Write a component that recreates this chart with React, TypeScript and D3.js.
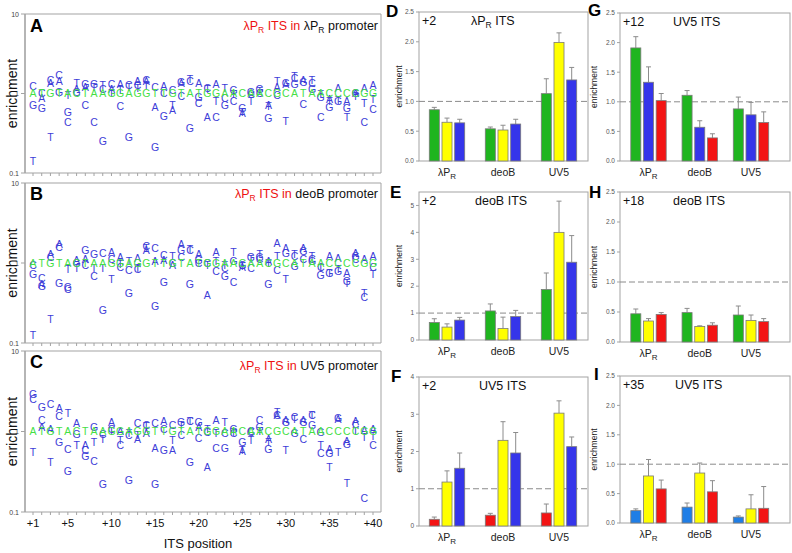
import React from 'react';
import * as d3 from 'd3';

const W = 792;
const H = 553;
const FONT = "'Liberation Sans', Arial, sans-serif";

// ---------- Left panels (A, B, C): ITS position scans ----------
const itsSeq = 'ATGTACTAAGGAGGTTGTATGGAACAACGCATAACCCCGG';
const positions = d3.range(1, 41);
const posTicks = [1, 5, 10, 15, 20, 25, 30, 35, 40];
const logTicks = [0.1, 1, 10];

const lettersA = ['CGT','AGC','CAT','CAG','TGC','TAG','GAC','GTC','TCG','CAT','ATC','CTG','ACT','CAT','CAG','ACG','CTA','GAC','CTG','AGC','CTA','ATC','TCG','GTC','GTA','GCT','GTC','ATG','TAC','GAT','TCG','AGC','TCG','TGC','ATG','ATG','AGT','AGT','ATC','ATC'];
const valuesA = [[1.24,0.71,0.14],[0.88,0.65,1.0],[1.47,1.33,0.28],[1.68,1.41,1.04],[0.95,0.58,0.43],[1.35,1.12,1.05],[1.3,1.2,0.71],[1.3,1.2,0.43],[1.26,1.12,0.25],[1.32,1.14,1.0],[1.32,1.1,0.7],[1.28,1.2,0.28],[1.41,1.28,1.17],[1.47,1.43,1.26],[1.21,0.67,0.21],[1.24,1.02,0.52],[1.1,0.71,0.61],[1.4,1.36,0.93],[1.43,1.5,0.37],[1.33,0.91,0.76],[1.18,1.12,0.51],[1.3,0.8,0.5],[1.16,0.87,0.71],[1.1,0.99,0.79],[0.66,0.59,0.57],[1.04,0.99,0.79],[1.14,1.07,1.0],[0.72,0.7,0.49],[1.41,1.21,0.94],[1.33,1.31,0.45],[1.65,1.54,1.3],[1.46,1.4,0.74],[1.47,1.33,1.14],[0.97,0.91,0.51],[0.86,0.8,0.67],[1.18,0.82,0.8],[0.8,0.66,0.5],[1.0,1.0,0.92],[1.18,0.76,0.43],[1.26,0.84,0.63]];

const lettersB = ['CGT','CAG','ACT','ACG','TGC','ATG','GAC','GCT','CTG','ACT','ACT','TCG','ACT','CAT','CAG','CAG','TAC','AGC','CTG','AGC','TCA','ATC','TCG','TGC','GAT','GCT','TGC','ATG','ATC','AGT','CTG','AGC','TCG','TCG','ATG','ATG','AGT','AGC','TCA','ACT'];
const valuesB = [[0.93,0.72,0.125],[0.64,0.55,0.52],[1.28,1.19,0.2],[1.74,1.57,0.56],[0.83,0.5,0.47],[1.07,0.87,1.0],[1.44,1.1,0.94],[1.27,0.68,0.87],[1.33,0.87,0.26],[1.36,1.12,0.63],[1.18,0.89,0.98],[1.05,0.81,0.42],[1.15,0.83,0.85],[1.61,1.44,1.55],[1.54,1.05,0.29],[1.25,1.07,0.57],[1.23,0.95,1.0],[1.72,1.46,1.18],[1.46,1.49,0.55],[1.27,1.07,1.0],[0.95,1.0,0.4],[1.36,1.05,0.79],[0.93,0.87,0.68],[1.37,1.05,0.58],[0.95,0.88,0.92],[1.19,0.86,1.12],[1.29,1.19,1.12],[1.06,1.0,0.54],[1.77,1.21,0.81],[1.54,1.31,0.63],[1.23,1.29,0.91],[1.54,1.4,1.12],[1.23,1.1,1.05],[0.87,0.89,0.7],[1.23,0.74,0.75],[1.15,0.83,0.79],[0.74,0.59,0.56],[1.31,1.2,1.13],[0.42,0.37,1.13],[1.23,0.88,0.73]];

const lettersC = ['GCT','GCA','CAT','ACG','TCG','AGT','ACG','GTC','CTG','ACT','ATC','CTG','CTA','CTA','CAG','ACG','CTA','GTC','CTG','GAC','TCA','ACT','TCG','GCT','GAT','GTC','CGT','ATG','TCA','AGT','CTG','AGC','CTG','GTC','AGT','GAT','AGT','ACT','ATC','ATC'];
const valuesC = [[2.87,2.51,0.55],[1.98,1.37,1.13],[2.17,1.06,0.41],[1.96,1.54,0.74],[1.71,0.61,0.32],[1.25,0.92,0.67],[0.67,0.59,0.5],[1.13,0.74,0.43],[0.93,0.8,0.22],[1.31,1.08,1.0],[1.01,0.77,0.67],[0.89,0.95,0.25],[1.25,0.89,0.81],[1.19,1.15,0.94],[1.27,0.62,0.22],[1.35,1.08,0.58],[1.19,0.77,0.58],[1.31,1.19,0.89],[1.35,1.35,0.42],[1.31,1.13,0.83],[1.08,0.98,0.36],[1.37,0.62,0.96],[1.31,0.94,0.62],[1.08,0.95,0.98],[0.74,0.57,0.58],[0.98,0.79,1.0],[1.37,1.13,1.0],[0.81,0.74,0.61],[1.74,1.61,1.6],[1.37,1.31,0.59],[1.51,1.44,0.94],[1.37,1.31,0.81],[1.58,1.6,1.19],[0.98,0.67,0.54],[0.61,0.53,0.36],[1.48,1.44,0.55],[0.75,0.7,0.23],[1.35,1.22,1.0],[1.03,0.85,0.15],[1.08,0.87,0.67]];

// ---------- Right panels (D-I): bar charts ----------
const categories = ['lPR', 'deoB', 'UV5'];

const valuesD = [[0.86, 0.65, 0.64], [0.54, 0.52, 0.62], [1.13, 1.99, 1.36]];
const errorsD = [[0.04, 0.07, 0.06], [0.03, 0.08, 0.08], [0.25, 0.16, 0.21]];
const valuesE = [[0.65, 0.48, 0.74], [1.08, 0.43, 0.87], [1.88, 4.0, 2.89]];
const errorsE = [[0.14, 0.12, 0.1], [0.26, 0.42, 0.23], [0.61, 1.16, 0.99]];
const valuesF = [[0.18, 1.18, 1.55], [0.29, 2.3, 1.96], [0.35, 3.03, 2.13]];
const errorsF = [[0.06, 0.3, 0.41], [0.05, 0.5, 0.55], [0.24, 0.33, 0.26]];
const valuesG = [[1.91, 1.33, 1.02], [1.11, 0.57, 0.39], [0.88, 0.78, 0.65]];
const errorsG = [[0.19, 0.26, 0.12], [0.08, 0.11, 0.07], [0.2, 0.21, 0.18]];
const valuesH = [[0.47, 0.35, 0.46], [0.49, 0.26, 0.28], [0.45, 0.36, 0.34]];
const errorsH = [[0.08, 0.04, 0.03], [0.07, 0.01, 0.04], [0.15, 0.09, 0.05]];
const valuesI = [[0.21, 0.8, 0.58], [0.27, 0.85, 0.53], [0.1, 0.24, 0.25]];
const errorsI = [[0.03, 0.28, 0.15], [0.07, 0.17, 0.19], [0.02, 0.24, 0.37]];

const GREEN = '#1fb51f';
const YELLOW = '#ffff00';
const BLUE = '#3535ea';
const RED = '#f31414';
const AZURE = '#1f7ee6';

const AXIS = '#a3a3a3';

function LogoPanel(props: {
  top: number; bottom: number; letters: string[]; values: number[][];
  label: string; promoter: string; labelY: number; titleY: number; showX: boolean;
}) {
  const { top, bottom, letters, values, label, promoter, labelY, titleY, showX } = props;
  const x0 = 25, x1 = 381;
  const x = d3.scaleLinear().domain([1, 40]).range([33, 373]);
  const y = d3.scaleLog().domain([0.1, 10]).range([bottom, top]);
  const promoterIsL = promoter === 'lPR';
  return (
    <g>
      <line x1={x0} x2={x1} y1={top} y2={top} stroke={AXIS} strokeWidth={1} />
      <line x1={x1} x2={x1} y1={top} y2={bottom} stroke={AXIS} strokeWidth={1} />
      <line x1={x0} x2={x1} y1={bottom} y2={bottom} stroke={AXIS} strokeWidth={1.2} />
      <line x1={x0} x2={x0} y1={top} y2={bottom} stroke={AXIS} strokeWidth={1.6} />
      {logTicks.map((t) => (
        <g key={t}>
          <line x1={x0 - 4} x2={x0} y1={y(t)} y2={y(t)} stroke={AXIS} />
          <text x={x0 - 6} y={y(t) + 2.5} fontSize={7} textAnchor="end" fill="#444" fontFamily={FONT}>{t}</text>
        </g>
      ))}
      {positions.map((p) => (
        <line key={p} x1={x(p)} x2={x(p)} y1={bottom} y2={bottom + 3} stroke={AXIS} />
      ))}
      {showX && posTicks.map((p) => (
        <text key={p} x={x(p)} y={bottom + 15} fontSize={11} textAnchor="middle" fill="#111" fontFamily={FONT}>+{p}</text>
      ))}
      <text transform={`translate(17,${(top + bottom) / 2}) rotate(-90)`} fontSize={14} textAnchor="middle" fill="#111" fontFamily={FONT}>enrichment</text>
      <text x={30} y={labelY} fontSize={18} fontWeight="bold" fill="#000" fontFamily={FONT}>{label}</text>
      <text x={378} y={titleY} fontSize={12.5} textAnchor="end" fontFamily={FONT}>
        <tspan fill="#ee1111">λP</tspan>
        <tspan fill="#ee1111" fontSize={8.5} dy={3}>R</tspan>
        <tspan fill="#ee1111" dy={-3}> ITS in </tspan>
        {promoterIsL ? (
          <>
            <tspan fill="#111">λP</tspan>
            <tspan fill="#111" fontSize={8.5} dy={3}>R</tspan>
            <tspan fill="#111" dy={-3}> promoter</tspan>
          </>
        ) : (
          <tspan fill="#111">{promoter} promoter</tspan>
        )}
      </text>
      {positions.map((p, i) => (
        <g key={p}>
          {letters[i].split('').map((ch, j) => (
            <text key={j} x={x(p)} y={y(values[i][j]) + 3.8} fontSize={10.5} textAnchor="middle" fill="#3d3dd8" fontFamily={FONT}>{ch}</text>
          ))}
          <text x={x(p)} y={y(1) + 3.8} fontSize={10.5} textAnchor="middle" fill="#44e044" fontFamily={FONT}>{itsSeq[i]}</text>
        </g>
      ))}
    </g>
  );
}

function BarPanel(props: {
  x0: number; x1: number; top: number; bottom: number; max: number; ticks: number[]; fmt: (n: number) => string;
  values: number[][]; errors: number[][]; colors: string[]; label: string; labelX: number; labelY: number;
  pos: string; its: string; itsX: number; catA: number; catB: number; ylabX: number;
}) {
  const { x0, x1, top, bottom, max, ticks, fmt, values, errors, colors, label, labelX, labelY, pos, its, itsX, catA, catB, ylabX } = props;
  const y = d3.scaleLinear().domain([0, max]).range([bottom, top]);
  const xc = d3.scalePoint().domain(categories).range([x0 + catA, x0 + catB]);
  const xb = d3.scaleBand<number>().domain([0, 1, 2]).range([-17.7, 17.7]).paddingInner(0.21);
  const isL = its === 'lPR';
  return (
    <g>
      <rect x={x0} y={top} width={x1 - x0} height={bottom - top} fill="none" stroke={AXIS} strokeWidth={1} />
      {ticks.map((t) => (
        <g key={t}>
          <line x1={x0 - 3} x2={x0} y1={y(t)} y2={y(t)} stroke={AXIS} />
          <text x={x0 - 5} y={y(t) + 2.3} fontSize={6.5} textAnchor="end" fill="#555" fontFamily={FONT}>{fmt(t)}</text>
        </g>
      ))}
      <text transform={`translate(${ylabX},${(top + bottom) / 2}) rotate(-90)`} fontSize={8.5} textAnchor="middle" fill="#222" fontFamily={FONT}>enrichment</text>
      <line x1={x0} x2={x1} y1={y(1)} y2={y(1)} stroke="#8a8a8a" strokeWidth={1} strokeDasharray="6,3" />
      {categories.map((c, gi) => (
        <g key={c}>
          {values[gi].map((v, bi) => {
            const bx = (xc(c) as number) + (xb(bi) as number);
            const cx = bx + xb.bandwidth() / 2;
            const eTop = y(v + errors[gi][bi]);
            return (
              <g key={bi}>
                <line x1={cx} x2={cx} y1={y(v)} y2={eTop} stroke="#8c8c8c" strokeWidth={1} />
                <line x1={cx - 2.5} x2={cx + 2.5} y1={eTop} y2={eTop} stroke="#8c8c8c" strokeWidth={1} />
                <rect x={bx} y={y(v)} width={xb.bandwidth()} height={bottom - y(v)} fill={colors[bi]} stroke="#7a7a7a" strokeWidth={0.8} />
              </g>
            );
          })}
          {c === 'lPR' ? (
            <text x={xc(c) as number} y={bottom + 15} fontSize={10.5} textAnchor="middle" fill="#222" fontFamily={FONT}>
              <tspan>λP</tspan><tspan fontSize={8} dy={3}>R</tspan>
            </text>
          ) : (
            <text x={xc(c) as number} y={bottom + 15} fontSize={10.5} textAnchor="middle" fill="#222" fontFamily={FONT}>{c}</text>
          )}
        </g>
      ))}
      <text x={labelX} y={labelY} fontSize={17} fontWeight="bold" fill="#000" fontFamily={FONT}>{label}</text>
      <text x={x0 + 3} y={top + 13} fontSize={12.5} fill="#111" fontFamily={FONT}>{pos}</text>
      <text x={itsX} y={top + 13} fontSize={12.5} fill="#111" fontFamily={FONT}>
        {isL ? (
          <>
            <tspan>λP</tspan><tspan fontSize={8.5} dy={3}>R</tspan><tspan dy={-3}> ITS</tspan>
          </>
        ) : (
          <tspan>{its} ITS</tspan>
        )}
      </text>
    </g>
  );
}

const f1 = (n: number) => n.toFixed(1);
const f0 = (n: number) => String(n);

export default function App() {
  return (
    <svg width={W} height={H} style={{ position: 'absolute', left: 0, top: 0, background: '#fff' }} fontFamily={FONT}>
      <rect x={0} y={0} width={W} height={H} fill="#fff" />
      <LogoPanel top={14} bottom={173} letters={lettersA} values={valuesA} label="A" promoter="lPR" labelY={32} titleY={30} showX={false} />
      <LogoPanel top={183} bottom={343} letters={lettersB} values={valuesB} label="B" promoter="deoB" labelY={200} titleY={198} showX={false} />
      <LogoPanel top={351} bottom={512} letters={lettersC} values={valuesC} label="C" promoter="UV5" labelY={368} titleY={370} showX={true} />
      <text x={198} y={548} fontSize={13} textAnchor="middle" fill="#111" fontFamily={FONT}>ITS position</text>

      <BarPanel x0={419} x1={588} top={12} bottom={161} max={2.5} ticks={[0, 0.5, 1, 1.5, 2, 2.5]} fmt={f1}
        values={valuesD} errors={errorsD} colors={[GREEN, YELLOW, BLUE]} label="D" labelX={386} labelY={17}
        pos="+2" its="lPR" itsX={471} catA={28} catB={140} ylabX={402} />
      <BarPanel x0={419} x1={588} top={192} bottom={340} max={5.5} ticks={[0, 1, 2, 3, 4, 5]} fmt={f0}
        values={valuesE} errors={errorsE} colors={[GREEN, YELLOW, BLUE]} label="E" labelX={390} labelY={198}
        pos="+2" its="deoB" itsX={475} catA={28} catB={140} ylabX={402} />
      <BarPanel x0={419} x1={588} top={377} bottom={526} max={4} ticks={[0, 1, 2, 3, 4]} fmt={f0}
        values={valuesF} errors={errorsF} colors={[RED, YELLOW, BLUE]} label="F" labelX={391} labelY={382}
        pos="+2" its="UV5" itsX={479} catA={28} catB={140} ylabX={402} />

      <BarPanel x0={620} x1={790} top={13} bottom={161} max={2.5} ticks={[0, 0.5, 1, 1.5, 2, 2.5]} fmt={f1}
        values={valuesG} errors={errorsG} colors={[GREEN, BLUE, RED]} label="G" labelX={588} labelY={16}
        pos="+12" its="UV5" itsX={673} catA={28.5} catB={131} ylabX={597} />
      <BarPanel x0={620} x1={790} top={192} bottom={342} max={2.5} ticks={[0, 0.5, 1, 1.5, 2, 2.5]} fmt={f1}
        values={valuesH} errors={errorsH} colors={[GREEN, YELLOW, RED]} label="H" labelX={589} labelY={198}
        pos="+18" its="deoB" itsX={673} catA={28.5} catB={131} ylabX={597} />
      <BarPanel x0={620} x1={790} top={376} bottom={523} max={2.5} ticks={[0, 0.5, 1, 1.5, 2, 2.5]} fmt={f1}
        values={valuesI} errors={errorsI} colors={[AZURE, YELLOW, RED]} label="I" labelX={594} labelY={380}
        pos="+35" its="UV5" itsX={675} catA={28.5} catB={131} ylabX={597} />
    </svg>
  );
}
